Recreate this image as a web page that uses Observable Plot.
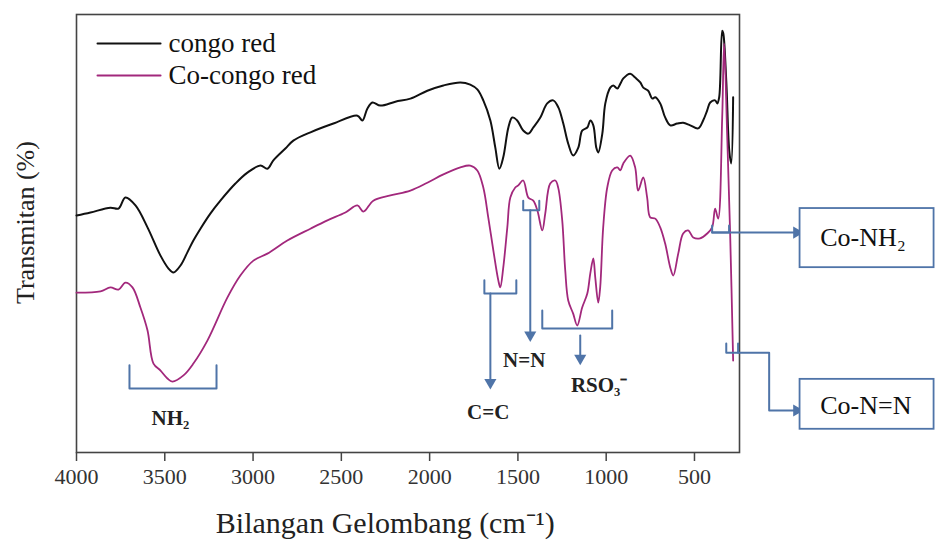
<!DOCTYPE html>
<html>
<head>
<meta charset="utf-8">
<script src="https://cdn.jsdelivr.net/npm/d3@7"></script>
<script src="https://cdn.jsdelivr.net/npm/@observablehq/plot@0.6"></script>
<style>
  html, body { margin: 0; padding: 0; background: #fff; }
  #chart svg { display: block; }
  #chart svg text { font-family: "Liberation Serif", "Times New Roman", serif !important; font-variant: normal !important; }
</style>
</head>
<body>
<div id="chart"></div>
<script>
// ---- data (wavenumber cm^-1, transmittance in arbitrary %) ----
const seriesNames = ["congo red", "Co-congo red"];
const xTicks = [4000, 3500, 3000, 2500, 2000, 1500, 1000, 500];

const wnBlack = [4000,3921,3808,3762,3723,3666,3598,3525,3479,3451,3411,3372,3338,3298,3241,3185,3100,3032,2958,2919,2885,2817,2772,2675,2545,2409,2381,2353,2324,2279,2194,2109,2013,1922,1826,1770,1730,1696,1656,1628,1605,1583,1554,1532,1504,1470,1441,1413,1373,1334,1300,1271,1243,1215,1187,1158,1136,1107,1090,1073,1056,1045,1022,1005,977,960,937,920,903,864,836,807,790,762,739,722,694,666,637,598,564,524,479,451,428,411,383,371,360,343,337,320,303,292,281];
const tBlack = [54.1,54.8,55.9,55.7,58.2,56.4,51.4,45.0,42.0,41.1,42.7,45.7,48.4,51.1,54.6,57.5,61.4,63.9,65.5,64.8,66.7,69.4,71.2,73.1,75.1,76.9,75.8,78.5,79.9,79.2,80.1,80.8,82.6,83.8,84.5,84.0,82.9,80.4,75.8,69.6,64.8,67.4,74.2,76.5,75.8,73.5,72.8,74.2,76.5,79.7,80.4,78.8,75.1,70.5,67.8,69.6,73.5,74.2,75.8,74.7,69.6,68.5,72.8,79.7,83.3,83.8,83.1,84.2,85.4,86.5,85.6,84.5,83.3,82.6,80.8,81.1,79.7,76.5,74.7,75.1,75.3,74.7,74.0,75.8,78.1,79.9,80.4,79.7,81.1,96.3,95.7,84.9,68.9,66.0,81.1];

const wnPink = [4000,3864,3808,3762,3723,3683,3638,3598,3564,3524,3485,3457,3394,3338,3258,3145,3072,2998,2919,2806,2675,2579,2477,2409,2375,2319,2222,2109,2013,1922,1826,1770,1730,1696,1668,1639,1611,1600,1583,1560,1543,1515,1498,1470,1441,1413,1390,1362,1345,1317,1288,1271,1249,1232,1215,1187,1164,1136,1107,1090,1073,1062,1045,1034,1017,994,966,937,920,903,864,836,819,790,768,751,722,694,666,637,620,592,564,536,507,468,428,400,383,366,343,332,315,298,281];
const tPink = [36.5,36.8,37.7,37.2,38.8,37.7,33.1,27.9,20.3,18.7,16.9,16.2,17.6,20.3,25.6,35.4,40.4,43.8,45.4,48.4,51.1,53.0,54.8,56.4,55.0,57.5,58.7,59.8,61.6,63.5,65.1,65.5,64.4,60.5,53.7,46.1,39.3,37.7,42.2,51.4,58.2,60.5,61.0,62.1,58.2,57.5,55.3,50.7,54.6,61.4,62.1,60.3,53.0,41.6,34.7,31.7,29.0,33.1,36.3,40.9,44.3,40.0,34.2,37.7,51.4,60.5,64.4,65.1,64.4,66.0,67.8,65.1,59.8,62.8,58.2,53.7,53.4,51.4,47.7,42.2,40.4,45.4,50.0,50.7,49.1,48.9,50.0,51.4,55.7,53.4,76.5,93.4,72.8,50.0,21.0];

// band annotations
const bandNames   = ["NH₂", "C=C", "N=N", "RSO₃⁻"];
const bandLeft    = [3700, 1690, 1470, 1362];
const bandRight   = [3207, 1509, 1379, 966];
const bandTop     = [19.9, 39.3, 57.5, 32.4];
const bandBottom  = [14.6, 36.3, 55.3, 28.3];
const arrowX      = [null, 1656, 1430, 1147];
const arrowFrom   = [null, 36.3, 55.3, 26.7];
const arrowTo     = [null, 14.8, 25.6, 20.3];
const labelX      = [3468, 1668, 1464, 1040];
const labelY      = [7.8, 9.1, 21.0, 15.3];

// metal-complex call-outs
const calloutNames = ["Co-NH₂", "Co-N=N"];
const calloutBracketL = [400, 320];
const calloutBracketR = [304, 253];
const calloutBracketTop = [51.8, 24.9];
const calloutBracketBot = [50.2, 22.8];
const calloutElbowX = [null, 77];
const calloutLineY = [50.2, 9.6];
const calloutTipX = [-87, -87];
const boxX1 = [-98, -98];
const boxX2 = [-857, -857];
const boxYTop = [55.7, 16.7];
const boxYBot = [42.2, 5.3];
const boxTextX = [-212, -212];
const boxTextY = [49.1, 10.7];

// legend anchor (data units)
const legendX1 = 3881, legendX2 = 3524, legendTextX = 3479;
const legendY = [93.4, 86.1];

// axis titles
const xTitle = "Bilangan Gelombang (cm⁻¹)";
const xTitleAt = 2251;
const yTitle = "Transmitan (%)";
const yTitleAt = 52.5;

// ---- build tables ----
const black = wnBlack.map((x, i) => ({x, y: tBlack[i]}));
const pink = wnPink.map((x, i) => ({x, y: tPink[i]}));

const bracketPts = [];
bandNames.forEach((n, i) => {
  bracketPts.push({k: n, x: bandLeft[i], y: bandTop[i]});
  bracketPts.push({k: n, x: bandLeft[i], y: bandBottom[i]});
  bracketPts.push({k: n, x: bandRight[i], y: bandBottom[i]});
  bracketPts.push({k: n, x: bandRight[i], y: bandTop[i]});
});
calloutNames.forEach((n, i) => {
  bracketPts.push({k: n + "b", x: calloutBracketL[i], y: calloutBracketTop[i]});
  bracketPts.push({k: n + "b", x: calloutBracketL[i], y: calloutBracketBot[i]});
  bracketPts.push({k: n + "b", x: calloutBracketR[i], y: calloutBracketBot[i]});
  bracketPts.push({k: n + "b", x: calloutBracketR[i], y: calloutBracketTop[i]});
});
const arrowLines = [];
const arrowHeadsDown = [];
bandNames.forEach((n, i) => {
  if (arrowX[i] == null) return;
  arrowLines.push({k: n, x: arrowX[i], y: arrowFrom[i]});
  arrowLines.push({k: n, x: arrowX[i], y: arrowTo[i] + 1.2});
  arrowHeadsDown.push({x: arrowX[i], y: arrowTo[i] + 1.2});
});
const arrowHeadsRight = [];
calloutNames.forEach((n, i) => {
  if (calloutElbowX[i] == null) {
    arrowLines.push({k: n, x: calloutBracketL[i], y: calloutLineY[i]});
  } else {
    arrowLines.push({k: n, x: calloutBracketR[i], y: calloutBracketBot[i]});
    arrowLines.push({k: n, x: calloutElbowX[i], y: calloutBracketBot[i]});
    arrowLines.push({k: n, x: calloutElbowX[i], y: calloutLineY[i]});
  }
  arrowLines.push({k: n, x: calloutTipX[i] + 8, y: calloutLineY[i]});
  arrowHeadsRight.push({x: calloutTipX[i] + 8, y: calloutLineY[i]});
});
const boxes = calloutNames.map((n, i) => ({n, x1: boxX1[i], x2: boxX2[i], y1: boxYBot[i], y2: boxYTop[i], tx: boxTextX[i], ty: boxTextY[i]}));
const bandLabels = bandNames.map((n, i) => ({n, x: labelX[i], y: labelY[i]}));
const legend = seriesNames.map((n, i) => ({n, y: legendY[i]}));
const legendLines = [];
seriesNames.forEach((n, i) => {
  legendLines.push({n, x: legendX1, y: legendY[i]});
  legendLines.push({n, x: legendX2, y: legendY[i]});
});

const BLUE = "#4f74a8";
const BLACK = "#111";
const PINK = "#a2287c";
const colorOf = n => n === seriesNames[0] ? BLACK : PINK;

const chart = Plot.plot({
  width: 937,
  height: 541,
  marginLeft: 76,
  marginRight: 198,
  marginTop: 14,
  marginBottom: 89,
  style: {fontFamily: "'Liberation Serif', 'Times New Roman', serif", background: "#fff", color: "#222", overflow: "visible"},
  x: {domain: [4000, 245]},
  y: {domain: [0, 100], axis: null},
  marks: [
    Plot.axisX({ticks: xTicks, tickSize: 9, tickPadding: 7, fontSize: 22, label: null, tickFormat: d => String(d), stroke: "#444", strokeWidth: 1.5, fill: "#333"}),
    Plot.frame({stroke: "#444", strokeWidth: 1.6}),
    // spectra
    Plot.line(black, {x: "x", y: "y", stroke: BLACK, strokeWidth: 2, curve: "catmull-rom"}),
    Plot.line(pink, {x: "x", y: "y", stroke: PINK, strokeWidth: 1.8, curve: "catmull-rom"}),
    // legend
    Plot.line(legendLines, {x: "x", y: "y", z: "n", stroke: d => colorOf(d.n), strokeWidth: 2}),
    Plot.text(legend, {x: legendTextX, y: "y", text: "n", textAnchor: "start", fontSize: 27, fill: "#111"}),
    // annotations
    Plot.line(bracketPts, {x: "x", y: "y", z: "k", stroke: BLUE, strokeWidth: 2}),
    Plot.line(arrowLines, {x: "x", y: "y", z: "k", stroke: BLUE, strokeWidth: 2}),
    Plot.dot(arrowHeadsDown, {x: "x", y: "y", symbol: "triangle", r: 4.5, fill: BLUE, rotate: 180}),
    Plot.dot(arrowHeadsRight, {x: "x", y: "y", symbol: "triangle", r: 4.5, fill: BLUE, rotate: 90}),
    Plot.text(bandLabels, {x: "x", y: "y", text: "n", fontSize: 21, fontWeight: "bold", fill: "#222"}),
    Plot.rect(boxes, {x1: "x1", x2: "x2", y1: "y1", y2: "y2", fill: "#fff", stroke: BLUE, strokeWidth: 1.8}),
    Plot.text(boxes, {x: "tx", y: "ty", text: "n", textAnchor: "start", fontSize: 26, fill: "#111"}),
    // titles
    Plot.text([{t: xTitle, x: xTitleAt}], {x: "x", text: "t", frameAnchor: "bottom", lineAnchor: "middle", dy: 71, fontSize: 30, fill: "#222"}),
    Plot.text([{t: yTitle, y: yTitleAt}], {y: "y", text: "t", frameAnchor: "left", textAnchor: "middle", lineAnchor: "middle", dx: -51, rotate: -90, fontSize: 26, fill: "#222"})
  ]
});
document.getElementById("chart").appendChild(chart);
</script>
</body>
</html>
